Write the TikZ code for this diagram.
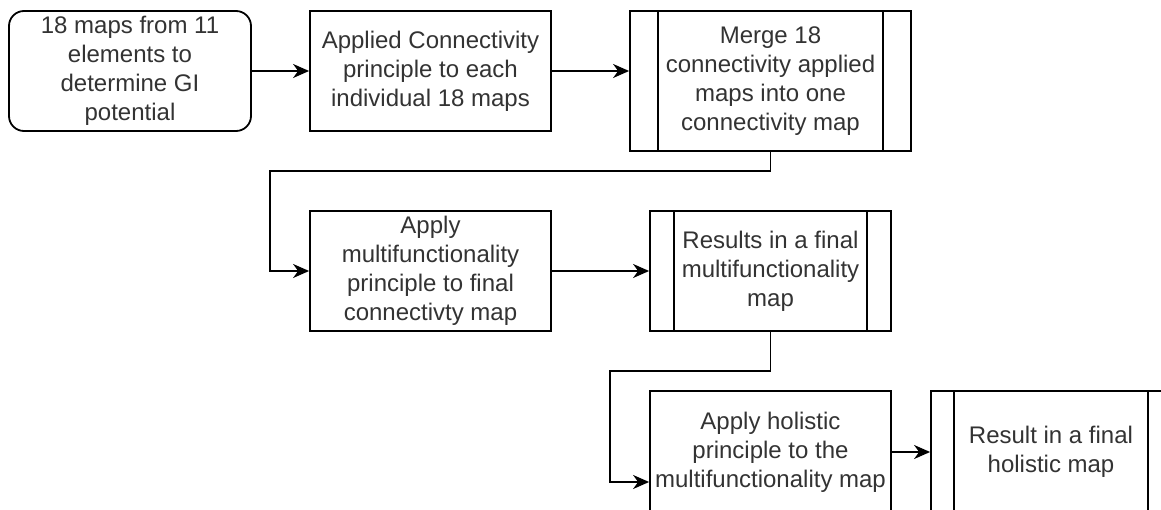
\documentclass[tikz,border=0pt]{standalone}
\usepackage{fontspec}
\setmainfont{Liberation Sans}
\usetikzlibrary{arrows.meta}

\tikzset{
  procbox/.style={draw,line width=1.8pt,minimum width=241pt,minimum height=120pt,inner sep=0pt,
    align=center,text=black!80,font=\fontsize{24}{29}\selectfont},
  startbox/.style={procbox,rounded corners=15pt,minimum width=242pt},
  subproc/.style={procbox,path picture={
    \draw[line width=1.8pt] ([xshift=#1]path picture bounding box.north west) -- ([xshift=#1]path picture bounding box.south west);
    \draw[line width=1.8pt] ([xshift=-#1]path picture bounding box.north east) -- ([xshift=-#1]path picture bounding box.south east);}},
  subproc/.default=24pt,
  flow/.style={line width=1.8pt,-{Stealth[length=16pt,width=14pt,inset=5pt]}},
}

\begin{document}
\begin{tikzpicture}
\begin{scope}[x={(1pt,0)},y={(0,-1pt)}]
\useasboundingbox (0,0) rectangle (1161,510);
\fill[white] (0,0) rectangle (1161,510);
\clip (0,0) rectangle (1161,510);

% boxes
\node[startbox] (maps) at (130,71) {18 maps from 11\\elements to\\determine GI\\potential};
\node[procbox] (connect) at (430.5,71) {Applied Connectivity\\principle to each\\individual 18 maps};
\node[subproc=28pt,minimum width=281pt,minimum height=140pt] (merge) at (770.5,81) {Merge 18\\connectivity applied\\maps into one\\connectivity map};
\node[procbox] (multi) at (430.5,271) {Apply\\multifunctionality\\principle to final\\connectivty map};
\node[subproc] (resmulti) at (770.5,271) {Results in a final\\multifunctionality\\map};
\node[procbox,minimum height=122pt] (holistic) at (770.5,452) {Apply holistic\\principle to the\\multifunctionality map};
\node[subproc=23pt,minimum width=240pt,minimum height=122pt] (resholistic) at (1051,452) {Result in a final\\holistic map};

% bends
\coordinate (bendA) at (270,171);
\coordinate (bendB) at (610,371);

% arrows
\draw[flow] (maps.east) -- (connect.west);
\draw[flow] (connect.east) -- (connect.east -| merge.west);
\draw[flow] (merge.south) |- (bendA) |- (multi.west);
\draw[flow] (multi.east) -- (resmulti.west);
\draw[flow] (resmulti.south) |- (bendB) |- ([yshift=-30pt]holistic.west);
\draw[flow] (holistic.east) -- (resholistic.west);

\end{scope}
\end{tikzpicture}
\end{document}
